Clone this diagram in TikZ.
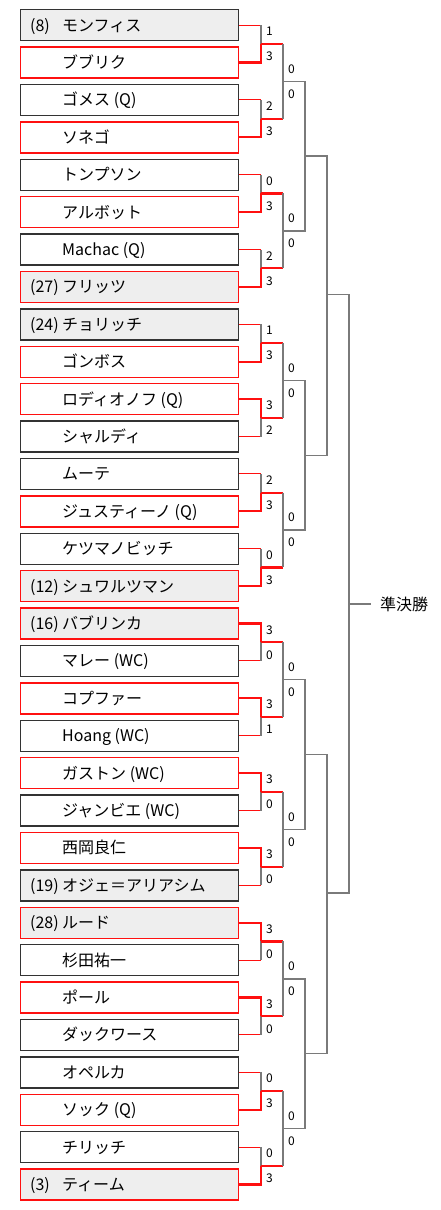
\documentclass[tikz,border=0pt]{standalone}
\usepackage{fontspec}
\setmainfont{Noto Sans CJK JP}
\definecolor{winred}{HTML}{FF1010}
\definecolor{losedark}{HTML}{333333}
\definecolor{seedgray}{HTML}{EEEEEE}
\definecolor{linegray}{HTML}{7A7A7A}
\tikzset{
  player/.style={draw, line width=1.3pt, minimum width=218pt, minimum height=31pt, inner sep=0pt},
  pname/.style={anchor=base west, inner sep=0pt, font=\fontsize{16}{16}\selectfont},
  score/.style={anchor=west, inner sep=0pt, font=\fontsize{12}{12}\selectfont},
  winline/.style={draw=winred, line width=2.2pt},
  loseline/.style={draw=winred, line width=1pt},
  graythin/.style={draw=linegray, line width=1.1pt},
  bracket/.style={draw=linegray, line width=1.5pt},
}
\begin{document}
\begin{tikzpicture}[x=1pt,y=-1pt]
\useasboundingbox (0,0) rectangle (440,1210);
% players
\foreach \i/\nm/\bc/\fc in {
  0/モンフィス/losedark/seedgray,
  1/ブブリク/winred/white,
  2/ゴメス (Q)/losedark/white,
  3/ソネゴ/winred/white,
  4/トンプソン/losedark/white,
  5/アルボット/winred/white,
  6/Machac (Q)/losedark/white,
  7/フリッツ/winred/seedgray,
  8/チョリッチ/losedark/seedgray,
  9/ゴンボス/winred/white,
  10/ロディオノフ (Q)/winred/white,
  11/シャルディ/losedark/white,
  12/ムーテ/losedark/white,
  13/ジュスティーノ (Q)/winred/white,
  14/ケツマノビッチ/losedark/white,
  15/シュワルツマン/winred/seedgray,
  16/バブリンカ/winred/seedgray,
  17/マレー (WC)/losedark/white,
  18/コプファー/winred/white,
  19/Hoang (WC)/losedark/white,
  20/ガストン (WC)/winred/white,
  21/ジャンビエ (WC)/losedark/white,
  22/西岡良仁/winred/white,
  23/オジェ＝アリアシム/losedark/seedgray,
  24/ルード/winred/seedgray,
  25/杉田祐一/losedark/white,
  26/ポール/winred/white,
  27/ダックワース/losedark/white,
  28/オペルカ/losedark/white,
  29/ソック (Q)/winred/white,
  30/チリッチ/losedark/white,
  31/ティーム/winred/seedgray}{
  \node[player, draw=\bc, fill=\fc] (p\i) at (129.5, 25.15+37.4*\i) {};
  \node[pname] (n\i) at (62, 31.15+37.4*\i) {\nm};
}
% seeds
\foreach \i/\sd in {0/(8), 7/(27), 8/(24), 15/(12), 16/(16), 23/(19), 24/(28), 31/(3)}{
  \node[pname] (sd\i) at (30, 31.15+37.4*\i) {\sd};
}
% junction coordinates
\foreach \j in {0,...,7}{
  \coordinate (r2-\j) at (283, 81.25+149.6*\j);
}
\foreach \q in {0,...,3}{
  \coordinate (r3-\q) at (305, 156.05+299.2*\q);
}
\coordinate (qf-0) at (327, 294.3);
\coordinate (qf-1) at (327, 892.75);
\coordinate (sf) at (349, 604);
% first round
\foreach \k/\a/\b in {0/1/3,1/2/3,2/0/3,3/2/3,4/1/3,5/3/2,6/2/3,7/0/3,
                      8/3/0,9/3/1,10/3/0,11/3/0,12/3/0,13/3/0,14/0/3,15/0/3}{
  \pgfmathtruncatemacro\t{2*\k}
  \pgfmathtruncatemacro\u{2*\k+1}
  \pgfmathtruncatemacro\j{div(\k,2)}
  \coordinate (r1-\k) at (261, 43.85+74.8*\k);
  \ifnum\a>\b
    \draw[winline] (p\t.east) -| (r1-\k);
    \draw[loseline] (p\u.east) -- (p\u.east -| r1-\k);
    \draw[graythin] (p\u.east -| r1-\k) -- (r1-\k);
  \else
    \draw[winline] (p\u.east) -| (r1-\k);
    \draw[loseline] (p\t.east) -- (p\t.east -| r1-\k);
    \draw[graythin] (p\t.east -| r1-\k) -- (r1-\k);
  \fi
  \draw[winline] (r1-\k) -- (r1-\k -| r2-\j);
  \draw[bracket] (r1-\k -| r2-\j) -- (r2-\j);
  \node[score] (sa\k) at (266, 31.35+74.8*\k) {\a};
  \node[score] (sb\k) at (266, 56.35+74.8*\k) {\b};
}
% second round
\foreach \j in {0,...,7}{
  \pgfmathtruncatemacro\q{div(\j,2)}
  \draw[bracket] (r2-\j) -| (r3-\q);
  \node[score] (ta\j) at (288, 68.75+149.6*\j) {0};
  \node[score] (tb\j) at (288, 93.75+149.6*\j) {0};
}
% third round
\foreach \q in {0,...,3}{
  \pgfmathtruncatemacro\h{div(\q,2)}
  \draw[bracket] (r3-\q) -| (qf-\h);
}
% quarter finals
\draw[bracket] (qf-0) -| (sf);
\draw[bracket] (qf-1) -| (sf);
\node[anchor=west, inner sep=0pt, font=\fontsize{16}{16}\selectfont] (semi) at (380, 604) {準決勝};
\draw[bracket, shorten >=9pt] (sf) -- (semi.west);
\end{tikzpicture}
\end{document}
